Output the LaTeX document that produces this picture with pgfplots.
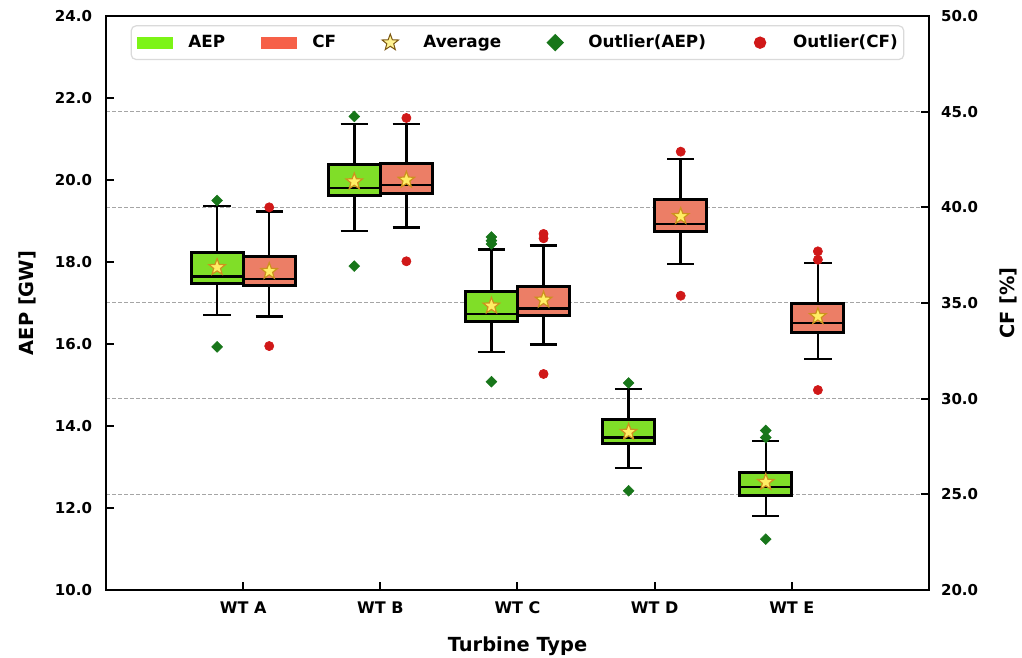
\documentclass[border=0pt]{standalone}
\usepackage{pgfplots}
\pgfplotsset{compat=1.18}
\usepgfplotslibrary{statistics}
\usepackage{fontspec}
\setmainfont{DejaVu Sans}

\definecolor{aepbox}{RGB}{128,222,40}
\definecolor{cfbox}{RGB}{236,126,102}
\definecolor{aepleg}{RGB}{124,244,22}
\definecolor{cfleg}{RGB}{246,96,72}
\definecolor{aepout}{RGB}{24,118,26}
\definecolor{cfout}{RGB}{208,24,24}
\definecolor{starfill}{RGB}{255,238,100}
\definecolor{staredge}{RGB}{205,145,30}
\definecolor{gridc}{RGB}{165,165,165}
\definecolor{legframe}{RGB}{218,218,218}

\pgfdeclareplotmark{fstar}{%
  \pgfpathmoveto{\pgfpointpolar{90}{\pgfplotmarksize}}%
  \pgfpathlineto{\pgfpointpolar{126}{0.42\pgfplotmarksize}}%
  \pgfpathlineto{\pgfpointpolar{162}{\pgfplotmarksize}}%
  \pgfpathlineto{\pgfpointpolar{198}{0.42\pgfplotmarksize}}%
  \pgfpathlineto{\pgfpointpolar{234}{\pgfplotmarksize}}%
  \pgfpathlineto{\pgfpointpolar{270}{0.42\pgfplotmarksize}}%
  \pgfpathlineto{\pgfpointpolar{306}{\pgfplotmarksize}}%
  \pgfpathlineto{\pgfpointpolar{342}{0.42\pgfplotmarksize}}%
  \pgfpathlineto{\pgfpointpolar{18}{\pgfplotmarksize}}%
  \pgfpathlineto{\pgfpointpolar{54}{0.42\pgfplotmarksize}}%
  \pgfpathclose
  \pgfusepathqfillstroke}

\pgfplotsset{
  bp/.style={
    draw=black,
    boxplot/draw direction=y,
    boxplot/box extend=0.38,
    boxplot/whisker extend=0.2,
    boxplot/every whisker/.style={line width=1.25pt},
    boxplot/every median/.style={line width=1.3pt},
  },
  aepbp/.style={bp,
    boxplot/every box/.style={fill=aepbox, draw=black, line width=1.5pt},
    mark=square*, mark size=1.9pt,
    mark options={rotate=45, fill=aepout, draw=aepout, line width=0.3pt, solid}},
  cfbp/.style={bp,
    boxplot/every box/.style={fill=cfbox, draw=black, line width=1.5pt},
    mark=*, mark size=2.3pt,
    mark options={fill=cfout, draw=cfout, line width=0.3pt, solid}},
  avg/.style={only marks, mark=fstar, mark size=4.3pt,
    mark options={fill=starfill, draw=staredge, line width=0.6pt}},
  tickfont/.style={font=\fontsize{7.5}{8}\selectfont\bfseries},
}

\begin{document}
\begin{tikzpicture}
\useasboundingbox (-53pt,-34pt) rectangle (458pt,295pt);

% ---------------- CF axis (right) ----------------
\begin{axis}[
  name=cf, scale only axis, width=411.5pt, height=287pt,
  xmin=-1, xmax=5, ymin=20, ymax=50,
  boxplot/draw direction=y,
  axis x line=none, axis y line*=right,
  ytick={20,25,...,50},
  tick align=inside, major tick length=4pt,
  tick style={line width=1pt, black},
  axis line style={line width=1.2pt, black},
  ymajorgrids,
  grid style={gridc, line width=0.5pt, dash pattern=on 2pt off 1pt},
  yticklabel style={tickfont, xshift=2.5pt,
    /pgf/number format/.cd, fixed, fixed zerofill, precision=1, assume math mode=true},
  ylabel={CF [\%]},
  ylabel style={font=\fontsize{9.7}{11}\selectfont\bfseries,
    at={(axis description cs:1.097,0.5)}, anchor=center, rotate=0},
]
% WT A
\addplot[cfbp, boxplot prepared={draw position=0.19, lower whisker=34.30, lower quartile=35.90,
  median=36.25, upper quartile=37.44, upper whisker=39.79}] coordinates {(0,40.0) (0,32.75)};
% WT B
\addplot[cfbp, boxplot prepared={draw position=1.19, lower whisker=38.94, lower quartile=40.70,
  median=41.17, upper quartile=42.27, upper whisker=44.36}] coordinates {(0,44.67) (0,37.18)};
% WT C
\addplot[cfbp, boxplot prepared={draw position=2.19, lower whisker=32.82, lower quartile=34.34,
  median=34.72, upper quartile=35.87, upper whisker=38.00}] coordinates {(0,38.61) (0,38.38) (0,31.29)};
% WT D
\addplot[cfbp, boxplot prepared={draw position=3.19, lower whisker=37.04, lower quartile=38.75,
  median=39.13, upper quartile=40.40, upper whisker=42.53}] coordinates {(0,42.91) (0,35.38)};
% WT E
\addplot[cfbp, boxplot prepared={draw position=4.19, lower whisker=32.07, lower quartile=33.47,
  median=33.95, upper quartile=34.95, upper whisker=37.09}] coordinates {(0,37.70) (0,37.26) (0,30.45)};
% averages
\addplot[avg] coordinates {(0.19,36.66) (1.19,41.43) (2.19,35.16) (3.19,39.53) (4.19,34.30)};
\end{axis}

% ---------------- AEP axis (left) ----------------
\begin{axis}[
  name=aep, scale only axis, width=411.5pt, height=287pt,
  xmin=-1, xmax=5, ymin=10, ymax=24,
  boxplot/draw direction=y,
  xtick={0,1,2,3,4},
  xticklabels={WT A, WT B, WT C, WT D, WT E},
  ytick={10,12,...,24},
  xtick pos=bottom, ytick pos=left,
  tick align=inside, major tick length=4pt,
  tick style={line width=1pt, black},
  axis line style={line width=1.2pt, black},
  yticklabel style={tickfont, xshift=-3.5pt,
    /pgf/number format/.cd, fixed, fixed zerofill, precision=1, assume math mode=true},
  xticklabel style={font=\fontsize{8}{9}\selectfont\bfseries, yshift=-2.5pt},
  ylabel={AEP [GW]},
  ylabel style={font=\fontsize{9.7}{11}\selectfont\bfseries,
    at={(axis description cs:-0.096,0.5)}, anchor=center, rotate=0},
  xlabel={Turbine Type},
  xlabel style={font=\fontsize{9.7}{11}\selectfont\bfseries,
    at={(axis description cs:0.5,-0.098)}, anchor=center},
  legend columns=5,
  legend cell align=left,
  legend style={at={(axis description cs:0.5,0.984)}, anchor=north,
    draw=legframe, line width=0.6pt, rounded corners=2.5pt, fill=white,
    font=\fontsize{8.4}{9}\selectfont\bfseries,
    inner xsep=3pt, inner ysep=3.5pt,
    nodes={inner xsep=0pt, inner ysep=1pt},
    column sep=0pt,
    /tikz/every odd column/.append style={column sep=7.5pt},
    /tikz/every even column/.append style={column sep=18pt}},
]
\addlegendimage{legend image code/.code={\fill[aepleg, rounded corners=0pt] (0pt,-2.75pt) rectangle (17.5pt,2.75pt);}}
\addlegendentry{AEP}
\addlegendimage{legend image code/.code={\fill[cfleg, rounded corners=0pt] (0pt,-2.75pt) rectangle (17.5pt,2.75pt);}}
\addlegendentry{CF}
\addlegendimage{legend image code/.code={\path (0pt,0pt) (17.5pt,0pt);
  \draw[fill=starfill!70!white, draw=staredge!60!black, line width=0.5pt, mark size=4.3pt] plot[mark=fstar, only marks] coordinates {(8.75pt,0pt)};}}
\addlegendentry{Average}
\addlegendimage{legend image code/.code={\path (0pt,0pt) (17.5pt,0pt);
  \draw[fill=aepout, draw=aepout, mark size=2.8pt] plot[mark=square*, only marks, mark options={rotate=45}] coordinates {(8.75pt,0pt)};}}
\addlegendentry{Outlier(AEP)}
\addlegendimage{legend image code/.code={\path (0pt,0pt) (17.5pt,0pt);
  \draw[fill=cfout, draw=cfout, mark size=2.8pt] plot[mark=*, only marks] coordinates {(8.75pt,0pt)};}}
\addlegendentry{Outlier(CF)}

% WT A
\addplot[aepbp, forget plot, boxplot prepared={draw position=-0.19, lower whisker=16.71, lower quartile=17.48,
  median=17.64, upper quartile=18.24, upper whisker=19.36}] coordinates {(0,19.50) (0,15.93)};
% WT B
\addplot[aepbp, forget plot, boxplot prepared={draw position=0.81, lower whisker=18.76, lower quartile=19.61,
  median=19.80, upper quartile=20.37, upper whisker=21.37}] coordinates {(0,21.55) (0,17.90)};
% WT C
\addplot[aepbp, forget plot, boxplot prepared={draw position=1.81, lower whisker=15.81, lower quartile=16.54,
  median=16.73, upper quartile=17.28, upper whisker=18.30}] coordinates {(0,18.61) (0,18.52) (0,18.44) (0,15.08)};
% WT D
\addplot[aepbp, forget plot, boxplot prepared={draw position=2.81, lower whisker=12.97, lower quartile=13.58,
  median=13.72, upper quartile=14.15, upper whisker=14.90}] coordinates {(0,15.05) (0,12.42)};
% WT E
\addplot[aepbp, forget plot, boxplot prepared={draw position=3.81, lower whisker=11.80, lower quartile=12.30,
  median=12.51, upper quartile=12.87, upper whisker=13.64}] coordinates {(0,13.89) (0,13.72) (0,11.24)};
% averages
\addplot[avg, forget plot] coordinates {(-0.19,17.87) (0.81,19.96) (1.81,16.93) (2.81,13.85) (3.81,12.63)};
\end{axis}
\end{tikzpicture}
\end{document}
